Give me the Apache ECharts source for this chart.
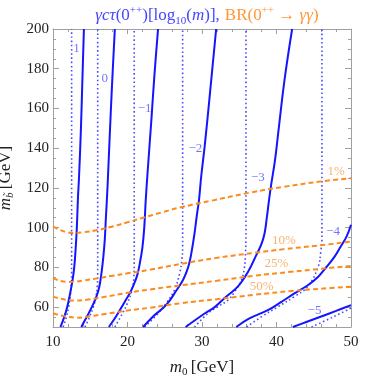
<!DOCTYPE html>
<html>
<head>
<meta charset="utf-8">
<script src="https://cdn.jsdelivr.net/npm/echarts@6/dist/echarts.min.js"></script>
<style>
html,body{margin:0;padding:0;background:#fff;}
#c{width:374px;height:378px;}
</style>
</head>
<body>
<div id="c"></div>
<script>
// ---- data (m0 [GeV], m_sbottom [GeV]) ----
const xRange = [10, 50];
const yRange = [50, 200];
const xTickValues = [10, 20, 30, 40, 50];
const yTickLabels = [60, 80, 100, 120, 140, 160, 180, 200];

// solid contours of log10(gamma c tau / m)
const solid_p1 = [[11.0,50],[11.5,55],[11.9,60],[12.3,67],[12.6,73],[12.85,80],[13.05,90],[13.2,100],[13.35,115],[13.5,126],[13.75,150],[13.95,175],[14.15,200]];
const solid_0  = [[13.8,50],[14.3,53.5],[14.8,57],[15.4,61.5],[15.8,65],[16.2,70],[16.5,77],[16.75,85],[16.95,94],[17.1,105],[17.3,119],[17.6,145],[17.9,170],[18.3,200]];
const solid_m1 = [[17.5,50],[18.5,55.5],[19.6,62.5],[20.3,67],[20.8,71],[21.3,76],[21.65,82],[22.0,90],[22.25,100],[22.45,114],[22.7,128],[23.2,154],[23.6,176],[24.1,200]];
const solid_m2 = [[22.1,50],[23.4,55.2],[25.2,61.1],[26.6,68.6],[27.45,73.7],[28.0,78.5],[28.35,83],[28.7,90],[29.0,97.2],[29.3,106],[29.6,114],[29.9,126],[30.36,141],[31.0,165],[31.9,200]];
const solid_m3 = [[27.8,50],[30.4,56.9],[31.7,60],[33.0,64.5],[34.8,70.3],[36.2,77.9],[37.3,86.3],[38.0,92],[38.4,97.2],[38.7,105],[39.0,114],[39.3,122],[39.8,134],[40.3,150],[41.1,175],[42.1,200]];
const solid_m4 = [[34.6,50],[36.3,54.2],[38.9,58.6],[40.6,62.5],[42.35,66.8],[44.2,71],[45.6,75.3],[46.7,80.2],[47.8,85.4],[48.6,90.4],[49.4,95.5],[50,101.5]];
const solid_m5 = [[42.2,50],[44.0,52.5],[46.0,55.3],[48.0,58.1],[50,61]];

// dotted contours (approximation)
const dot_p1 = [[11.35,50],[11.8,55],[12.1,60],[12.3,65],[12.45,71],[12.5,78],[12.5,200]];
const dot_0  = [[14.3,50],[14.9,55],[15.4,60],[15.75,65],[15.95,71],[16.0,78],[16.0,200]];
const dot_m1 = [[18.3,50],[19.2,56],[20.0,62],[20.55,68],[20.85,75],[20.9,82],[20.9,200]];
const dot_m2 = [[22.3,50],[23.9,56],[25.2,62],[26.3,68.6],[27.0,77],[27.3,84],[27.4,90],[27.4,200]];
const dot_m3 = [[29.0,50],[30.8,56.9],[32.1,60.2],[33.5,63.6],[34.4,67.8],[35.3,73.7],[35.7,80],[35.85,88],[35.9,97],[35.9,200]];
const dot_m4 = [[36.0,50],[38.0,55.2],[40.2,60.2],[42.4,65.3],[44.2,70.3],[45.6,80.4],[45.95,88],[46.1,95],[46.1,200]];
const dot_m5 = [[44.7,50],[47.4,54.7],[50,59.5]];

// BR(0++ -> gamma gamma) contours
const br_1  = [[10,100.5],[11,98.8],[12,97.6],[12.7,97.3],[14,97.7],[16,98.8],[18,100.6],[20,102.7],[22,104.9],[24.5,107.6],[27.2,110.3],[31.3,113.6],[36.4,117.6],[41,120.6],[46,123.3],[50,124.9]];
const br_10 = [[10,74.6],[11,73.2],[12,72.7],[13,72.8],[14,73.3],[16,74.5],[18,75.8],[20,77.0],[23,78.8],[27.2,81.8],[32,84.8],[37,87.3],[41,89.2],[45.4,90.9],[50,93]];
const br_25 = [[10,65.3],[11,64.3],[12,63.6],[13.1,63.3],[14.5,63.7],[17,65.2],[20,67.2],[23,68.9],[27.2,71],[32,73.3],[37,75.8],[42,77.8],[46,79.3],[50,80.7]];
const br_50 = [[10,56.9],[11,55.8],[12,55.1],[13.1,54.7],[14.5,55.1],[17,56.6],[20,58.3],[23,59.7],[27.2,62],[32,64],[37,66.2],[42,68.1],[46,69.3],[50,70.3]];

// contour labels [m0, m, text]
const tauLabels = [[13.15,190,'1'],[16.95,175,'0'],[22.3,160,'\u22121'],[29.1,140,'\u22122'],[37.5,125,'\u22123'],[47.6,98,'\u22124'],[45.1,58.2,'\u22125']];
const brLabels  = [[48.0,128.2,'1%'],[41.0,93.5,'10%'],[40.0,81.7,'25%'],[38.0,70.3,'50%']];

// ---- styling ----
const SERIF = "'Liberation Serif','DejaVu Serif',serif";
const BLUE = '#1414ff';
const DOTBLUE = '#4a4aff';
const ORANGE = '#ff8a1c';
const FRAME = '#a0a0a0';

function solid(d){return {type:'line',data:d,showSymbol:false,smooth:0.4,lineStyle:{color:BLUE,width:2},z:3,silent:true};}
function dotted(d){return {type:'line',data:d,showSymbol:false,smooth:0.4,lineStyle:{color:DOTBLUE,width:1.6,type:[1.6,2.6]},z:2,silent:true};}
function dashed(d){return {type:'line',data:d,showSymbol:false,smooth:0.4,lineStyle:{color:ORANGE,width:2,type:[5,3.2]},z:4,silent:true};}

const series = [];
[dot_p1,dot_0,dot_m1,dot_m2,dot_m3,dot_m4,dot_m5].forEach(d=>series.push(dotted(d)));
[solid_p1,solid_0,solid_m1,solid_m2,solid_m3,solid_m4,solid_m5].forEach(d=>series.push(solid(d)));
[br_1,br_10,br_25,br_50].forEach(d=>series.push(dashed(d)));
series.push({type:'scatter',data:tauLabels,symbolSize:0,z:6,silent:true,
  label:{show:true,position:'inside',formatter:p=>p.value[2],color:'#5050ff',fontFamily:SERIF,fontSize:13}});
series.push({type:'scatter',data:brLabels,symbolSize:0,z:6,silent:true,
  label:{show:true,position:'inside',formatter:p=>p.value[2],color:'#f5a050',fontFamily:SERIF,fontSize:13}});

const tickCommon = {show:true,inside:true,length:5,lineStyle:{color:FRAME}};
const minorCommon = {show:true,length:3,lineStyle:{color:FRAME}};
const TB = '#4646ff', TO = '#ff9638';

const option = {
  backgroundColor:'#fff',
  animation:false,
  title:{
    left:202, top:0, textAlign:'center',
    text:'{bi|\u03b3c\u03c4}{b|(0}{bs|++}{b|)[log}{bsub|10}{b|(}{bi|m}{b|)],} {o|BR(0}{os|++}{o| \u2192 }{oi|\u03b3\u03b3}{o|)}',
    textStyle:{
      fontWeight:'normal',
      rich:{
        b:{color:TB,fontFamily:SERIF,fontSize:17,fontWeight:'normal',lineHeight:22},
        bi:{color:TB,fontFamily:SERIF,fontSize:17,fontStyle:'italic',fontWeight:'normal',lineHeight:22},
        bs:{color:TB,fontFamily:SERIF,fontSize:11,fontWeight:'normal',lineHeight:11,verticalAlign:'top'},
        bsub:{color:TB,fontFamily:SERIF,fontSize:11,fontWeight:'normal',lineHeight:11,verticalAlign:'bottom'},
        o:{color:TO,fontFamily:SERIF,fontSize:17,fontWeight:'normal',lineHeight:22},
        oi:{color:TO,fontFamily:SERIF,fontSize:17,fontStyle:'italic',fontWeight:'normal',lineHeight:22},
        os:{color:TO,fontFamily:SERIF,fontSize:11,fontWeight:'normal',lineHeight:11,verticalAlign:'top'}
      }
    }
  },
  grid:{left:53,right:23,top:29,bottom:51,containLabel:false,outerBoundsMode:'none'},
  xAxis:[
    {type:'value',position:'bottom',min:xRange[0],max:xRange[1],interval:10,
     axisLine:{show:true,onZero:false,lineStyle:{color:FRAME,width:1}},
     axisTick:tickCommon,minorTick:Object.assign({splitNumber:5},minorCommon),
     splitLine:{show:false},
     axisLabel:{color:'#222',fontFamily:SERIF,fontSize:15,margin:8},
     name:'{i|m}{s|0} {n|[GeV]}',nameLocation:'middle',nameGap:31,
     nameTextStyle:{rich:{
       i:{fontFamily:SERIF,fontStyle:'italic',fontSize:17,color:'#222',lineHeight:20},
       s:{fontFamily:SERIF,fontSize:11,color:'#222',lineHeight:11,verticalAlign:'bottom'},
       n:{fontFamily:SERIF,fontSize:17,color:'#222',lineHeight:20}}}},
    {type:'value',position:'top',min:xRange[0],max:xRange[1],interval:10,
     axisLine:{show:true,onZero:false,lineStyle:{color:FRAME,width:1}},
     axisTick:tickCommon,minorTick:Object.assign({splitNumber:5},minorCommon),
     splitLine:{show:false},axisLabel:{show:false}}
  ],
  yAxis:[
    {type:'value',position:'left',min:yRange[0],max:yRange[1],interval:5,
     axisLine:{show:true,onZero:false,lineStyle:{color:FRAME,width:1}},
     axisTick:{show:true,inside:true,length:3,lineStyle:{color:FRAME}},
     splitLine:{show:false},
     axisLabel:{color:'#222',fontFamily:SERIF,fontSize:15,margin:4,
       formatter:v=>(yTickLabels.indexOf(v)>=0?String(v):'')},
     name:'{i|m}{s|b\u0303} {n|[GeV]}',nameLocation:'middle',nameGap:32,nameRotate:90,
     nameTextStyle:{rich:{
       i:{fontFamily:SERIF,fontStyle:'italic',fontSize:17,color:'#222',lineHeight:20},
       s:{fontFamily:SERIF,fontStyle:'italic',fontSize:11,color:'#222',lineHeight:11,verticalAlign:'bottom'},
       n:{fontFamily:SERIF,fontSize:17,color:'#222',lineHeight:20}}}},
    {type:'value',position:'right',min:yRange[0],max:yRange[1],interval:5,
     axisLine:{show:true,onZero:false,lineStyle:{color:FRAME,width:1}},
     axisTick:{show:true,inside:true,length:3,lineStyle:{color:FRAME}},
     splitLine:{show:false},axisLabel:{show:false}},
    {type:'value',position:'left',min:yRange[0],max:yRange[1],
     axisLine:{show:false},
     axisTick:{show:true,inside:true,length:6,lineStyle:{color:FRAME},customValues:yTickLabels},
     axisLabel:{show:false,customValues:yTickLabels},splitLine:{show:false}},
    {type:'value',position:'right',min:yRange[0],max:yRange[1],
     axisLine:{show:false},
     axisTick:{show:true,inside:true,length:6,lineStyle:{color:FRAME},customValues:yTickLabels},
     axisLabel:{show:false,customValues:yTickLabels},splitLine:{show:false}}
  ],
  series:series
};
const chart = echarts.init(document.getElementById('c'),null,{renderer:'canvas'});
chart.setOption(option);
</script>
</body>
</html>
